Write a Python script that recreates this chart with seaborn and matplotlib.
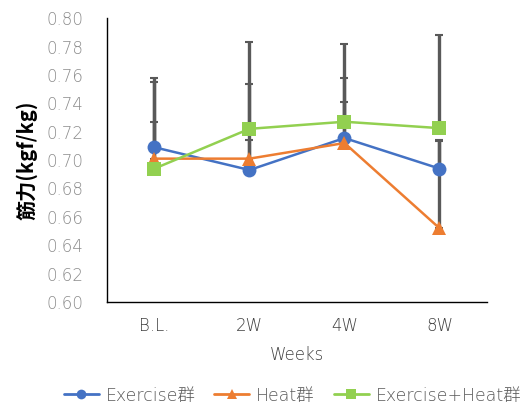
import matplotlib
matplotlib.use("Agg")
import matplotlib.pyplot as plt
import seaborn as sns
import pandas as pd
from matplotlib.lines import Line2D

weeks = ["B.L.", "2W", "4W", "8W"]
series_names = ["Exercise群", "Heat群", "Exercise+Heat群"]
exercise = [0.709, 0.693, 0.7155, 0.694]
heat = [0.701, 0.701, 0.712, 0.652]
ex_heat = [0.694, 0.722, 0.727, 0.7225]
exercise_err = [0.049, 0.021, 0.042, 0.020]
heat_err = [0.054, 0.0525, 0.029, 0.0615]
ex_heat_err = [0.033, 0.061, 0.0547, 0.0655]
yticks = [0.60, 0.62, 0.64, 0.66, 0.68, 0.70, 0.72, 0.74, 0.76, 0.78, 0.80]

colors = ["#4472C4", "#ED7D31", "#92D050"]
markers = ["o", "^", "s"]

sns.set_style("white")
plt.rcParams['font.family'] = ['DejaVu Sans', 'Noto Sans CJK JP']

rows = []
for name, vals, errs in zip(series_names, [exercise, heat, ex_heat],
                            [exercise_err, heat_err, ex_heat_err]):
    for i, (w, v, e) in enumerate(zip(weeks, vals, errs)):
        rows.append({"week": w, "x": i, "value": v, "err": e, "group": name})
df = pd.DataFrame(rows)

fig = plt.figure(figsize=(5.27, 4.12), dpi=100)
ax = fig.add_axes([0.203, 0.267, 0.721, 0.689])

# error bars (upper only), behind lines
for name in series_names:
    d = df[df.group == name]
    ax.errorbar(d["x"], d["value"], yerr=[[0] * len(d), d["err"]], fmt="none",
                ecolor="#595959", elinewidth=2.4, capsize=3, capthick=1.5, zorder=1)

sns.lineplot(data=df, x="x", y="value", hue="group", style="group",
             hue_order=series_names, style_order=series_names,
             palette=colors, markers=markers, dashes=False, markersize=10,
             markeredgewidth=0, linewidth=1.8, ax=ax, legend=False, zorder=3,
             sort=False)

ax.set_xlim(-0.5, 3.5)
ax.set_ylim(0.60, 0.80)
ax.set_yticks(yticks)
ax.set_yticklabels([f"{t:.2f}" for t in yticks])
ax.set_xticks(range(len(weeks)))
ax.set_xticklabels(weeks)
ax.tick_params(axis="both", length=0, labelsize=12, labelcolor="#8c8c8c")
ax.tick_params(axis="y", pad=17)
ax.tick_params(axis="x", pad=11)
for lab in ax.get_yticklabels() + ax.get_xticklabels():
    lab.set_fontweight("light")
for lab in ax.get_xticklabels():
    lab.set_color("#404040")

for s in ["top", "right"]:
    ax.spines[s].set_visible(False)
for s in ["left", "bottom"]:
    ax.spines[s].set_color("black")
    ax.spines[s].set_linewidth(1.0)

ax.set_xlabel("Weeks", fontsize=12, color="#404040", labelpad=8, fontweight="light")
ax.set_ylabel("筋力(kgf/kg)", fontsize=14.5, color="black", labelpad=6, fontweight="bold",
              family=['Noto Sans CJK JP', 'DejaVu Sans'])

handles = [Line2D([0], [0], color=c, marker=m, markersize=7, linewidth=2, markeredgewidth=0)
           for c, m in zip(colors, markers)]
leg = fig.legend(handles, series_names, loc="center", bbox_to_anchor=(0.555, 0.04),
                 ncol=3, frameon=False, handlelength=2.0,
                 columnspacing=1.1, handletextpad=0.4, prop={'size': 12.5, 'weight': 'light'})
for t in leg.get_texts():
    t.set_color("#595959")

fig.savefig("out.png", dpi=100)
